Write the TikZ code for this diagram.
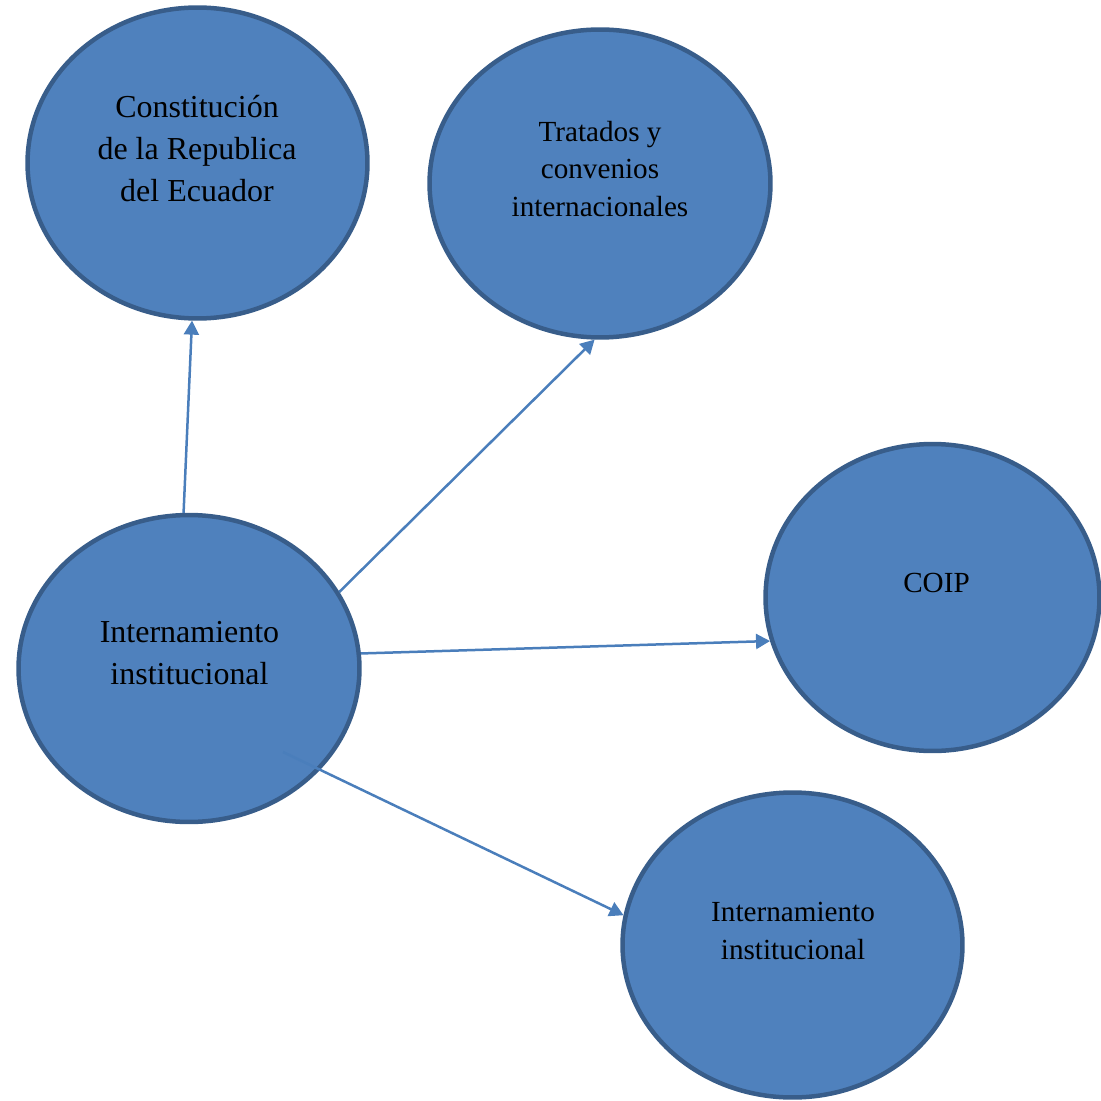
\documentclass[tikz,border=0pt]{standalone}
\usepackage{fontspec}
\setmainfont{Liberation Serif}
\usepackage{tikz}
\usetikzlibrary{calc,arrows.meta,shapes.geometric}
\definecolor{blobfill}{HTML}{4F81BD}
\definecolor{blobline}{HTML}{385D8A}
\definecolor{linkblue}{HTML}{4A7EBB}
\tikzset{
	blob/.style={ellipse, draw=blobline, fill=blobfill, line width=0.09cm, inner sep=0pt, minimum width=6.82cm, minimum height=6.14cm},
	bigtxt/.style={align=center, font=\fontsize{18.2}{23.9}\selectfont},
	smalltxt/.style={align=center, font=\fontsize{16.6}{21.6}\selectfont},
	link/.style={draw=linkblue, line width=0.05cm, -{Triangle[length=0.28cm, width=0.3cm]}}
}

\begin{document}
\begin{tikzpicture}[x=0.02cm, y=-0.02cm]
		%%%%% START %%%%%
		
		\useasboundingbox (0, 0) rectangle (1101, 1101);
		\clip (0, 0) rectangle (1101, 1101);
		
		\node[blob, minimum width=6.80cm, minimum height=6.22cm] (cre) at (197.5, 163) {};
		\node[bigtxt] (cre-t) at (197, 149) {Constitución\\de la Republica\\del Ecuador};
		
		\node[blob, minimum height=6.16cm] (trat) at (600, 183.5) {};
		\node[smalltxt] (trat-t) at (600, 169) {Tratados y\\convenios\\internacionales};
		
		\node[blob] (main) at (189, 668.5) {};
		\node[bigtxt] (main-t) at (189.5, 653) {Internamiento\\institucional};
		
		\node[blob, minimum width=6.68cm] (coip) at (932.5, 597.5) {};
		\node[smalltxt] (coip-t) at (936.5, 583) {COIP};
		
		\node[blob, minimum width=6.80cm, minimum height=6.10cm] (int) at (792.5, 945) {};
		\node[smalltxt] (int-t) at (793, 931) {Internamiento\\institucional};
		
		\coordinate (tail) at (283, 752);
		
		\draw[link] (main.92) -- (cre.268);
		\draw[link] (main.27) -- (trat.268);
		\draw[link] (main.5) -- (coip.195);
		\draw[link] (tail) -- (int.170);
		
		%%%%% END %%%%%
	\end{tikzpicture}
\end{document}
